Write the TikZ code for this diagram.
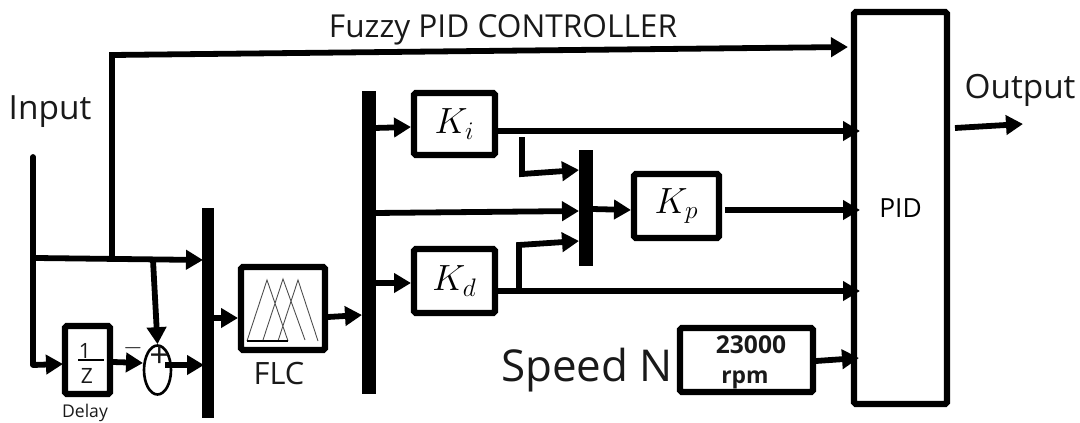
\documentclass[tikz,border=0pt]{standalone}
\usepackage{fontspec}
\setmainfont{Open Sans}
\usetikzlibrary{arrows.meta,shapes.geometric}
\tikzset{
	block/.style={draw,line width=3.6pt,rounded corners=1pt,inner sep=0pt},
	bar/.style={fill=black,inner sep=0pt,outer sep=0pt},
	sig/.style={line width=3.3pt,-{Triangle[length=0.34cm,width=0.38cm]}},
	wire/.style={line width=3.3pt},
	lab/.style={inner sep=0pt,text=black!90}
}
\begin{document}
\begin{tikzpicture}[x=0.02cm,y=-0.02cm]
	\useasboundingbox (0,0) rectangle (1080,423);
	\node[block,minimum width=1.62cm,minimum height=1.24cm] (Ki) at (454.5,124) {\huge $K_i$};
	\node[block,minimum width=1.62cm,minimum height=1.28cm] (Kd) at (454.5,281) {\huge $K_d$};
	\node[block,minimum width=1.70cm,minimum height=1.28cm] (Kp) at (676.5,206) {\huge $K_p$};
	\node[block,minimum width=1.68cm,minimum height=1.66cm] (FLC) at (283,308.5) {};
	\node[block,minimum width=0.90cm,minimum height=1.36cm] (Delay) at (87.5,360) {};
	\node[block,minimum width=2.66cm,minimum height=1.28cm] (Speed) at (746.5,360) {};
	\node[block,minimum width=1.86cm,minimum height=7.84cm,font=\fontsize{15}{17}\selectfont] (PID) at (900.5,208) {PID};
	\node[draw,ellipse,line width=1.5pt,minimum width=0.54cm,minimum height=0.98cm,inner sep=0pt] (Sum) at (157.5,370) {};
	\node[bar,minimum width=0.24cm,minimum height=4.2cm] (barIn) at (208,313) {};
	\node[bar,minimum width=0.28cm,minimum height=6.06cm] (barFlc) at (369,242.5) {};
	\node[bar,minimum width=0.28cm,minimum height=2.32cm] (barKp) at (586,208) {};

	\node[lab,font=\fontsize{18}{20}\selectfont] (title) at (503,30) {Fuzzy PID CONTROLLER};
	\node[lab,font=\fontsize{19}{21}\selectfont] (input) at (50,112) {Input};
	\node[lab,font=\fontsize{19}{21}\selectfont] (output) at (1020,90) {Output};
	\node[lab,font=\fontsize{25}{27}\selectfont] (speedN) at (587,370) {Speed N};
	\node[lab,font=\fontsize{17.5}{19}\selectfont] (flcLab) at (279,374) {FLC};
	\node[lab,font=\fontsize{10}{12}\selectfont] (delayLab) at (85,413) {Delay};
	\node[lab,font=\bfseries\fontsize{14}{16}\selectfont] (rpmA) at (751,345) {23000};
	\node[lab,font=\bfseries\fontsize{13}{15}\selectfont] (rpmB) at (745,380) {rpm};
	\node[lab,font=\fontsize{12}{14}\selectfont] (one) at (85,351) {1};
	\node[lab,font=\fontsize{12}{14}\selectfont] (zed) at (87,376) {Z};
	\node[lab,font=\fontsize{20}{22}\selectfont] (plus) at (159.5,357) {+};
	\node[lab,font=\fontsize{15}{17}\selectfont] (minus) at (133,348) {$-$};

	\coordinate (inTop) at (33,157);
	\coordinate (inCorner) at (33,365);
	\coordinate (inStart) at (36,258);
	\coordinate (tapUp) at (112,258);
	\coordinate (tapUpTop) at (112,55);
	\coordinate (tapSum) at (153,260);
	\coordinate (barInA) at (203,260);
	\coordinate (barInB) at (204,365);
	\coordinate (barInOut) at (211,318);
	\coordinate (flcIn) at (238,318);
	\coordinate (flcOut) at (328,317);
	\coordinate (barFlcIn) at (362,315);
	\coordinate (barFlcA) at (374,128);
	\coordinate (barFlcB) at (374,213);
	\coordinate (barFlcC) at (374,283);
	\coordinate (KiIn) at (411,127);
	\coordinate (KdIn) at (411,283);
	\coordinate (stubTop) at (522,137);
	\coordinate (stubCorner) at (522,174);
	\coordinate (barKpA) at (579,170);
	\coordinate (barKpB) at (579,211);
	\coordinate (barKpC) at (579,241);
	\coordinate (barKpOut) at (592,209);
	\coordinate (KpIn) at (631,210);
	\coordinate (KpOut) at (725,210);
	\coordinate (tapKd) at (519,291);
	\coordinate (tapKdTop) at (519,245);
	\coordinate (KiOut) at (498,131);
	\coordinate (KdOut) at (498,291);
	\coordinate (pidTop) at (848,47);
	\coordinate (pidA) at (860,131);
	\coordinate (pidB) at (860,210);
	\coordinate (pidC) at (860,291);
	\coordinate (pidD) at (859,358);
	\coordinate (speedOut) at (816,361);
	\coordinate (outStart) at (955,128);
	\coordinate (outEnd) at (1023,124);
	\coordinate (delayIn) at (63,364);
	\coordinate (delayOut) at (113,362);
	\coordinate (sumIn) at (143,363);
	\coordinate (sumOut) at (165,365);

	\draw[wire,line cap=round] (inTop)--(inCorner);
	\draw[sig] (inCorner)--(delayIn);
	\draw[sig] (inStart)--(barInA);
	\draw[sig] (tapUp)--(tapUpTop)--(pidTop);
	\draw[sig] (tapSum)--(Sum.north);
	\draw[sig] (delayOut)--(sumIn);
	\draw[sig] (sumOut)--(barInB);
	\draw[sig] (barInOut)--(flcIn);
	\draw[sig] (flcOut)--(barFlcIn);
	\draw[sig] (barFlcA)--(KiIn);
	\draw[sig] (barFlcC)--(KdIn);
	\draw[sig] (barFlcB)--(barKpB);
	\draw[sig] (stubTop)--(stubCorner)--(barKpA);
	\draw[sig] (tapKd)--(tapKdTop)--(barKpC);
	\draw[sig] (barKpOut)--(KpIn);
	\draw[sig] (KpOut)--(pidB);
	\draw[sig] (KiOut)--(pidA);
	\draw[sig] (KdOut)--(pidC);
	\draw[sig] (speedOut)--(pidD);
	\draw[sig] (outStart)--(outEnd);

	\draw[line width=0.8pt] (78,360)--(104,360);
	\draw[line width=0.5pt,black!70] (247,341)--(267,280)--(288,341) (263,340)--(283,279)--(305,340) (278,341)--(298,280)--(318,341);
	\draw[line width=0.7pt] (247,341)--(288,341);
\end{tikzpicture}
\end{document}
